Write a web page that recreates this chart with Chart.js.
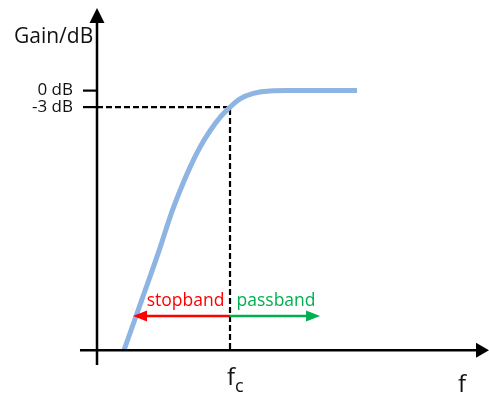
<!DOCTYPE html>
<html>
<head>
<meta charset="utf-8">
<script src="https://cdn.jsdelivr.net/npm/chart.js@4/dist/chart.umd.min.js"></script>
<style>
  html, body { margin: 0; padding: 0; background: #ffffff; }
  #wrap { width: 489px; height: 396px; }
</style>
</head>
<body>
<div id="wrap"><canvas id="c" width="489" height="396"></canvas></div>
<script>
// ---- data (normalized frequency f/fc, gain in dB) ----
const freq = [0.203, 0.336, 0.468, 0.562, 0.624, 0.699, 0.774, 0.850, 0.925, 1.0, 1.075, 1.175, 1.301, 1.436, 1.955];
const gain = [-47.2, -38.1, -29.0, -22.1, -18.2, -13.95, -10.3, -7.3, -4.85, -3.0, -1.5, -0.5, -0.05, 0, 0];
const cutoffF = 1.0;
const cutoffGain = -3;
const gainTicks = [0, -3];
const gainTickLabels = ['0 dB', '-3 dB'];
const baselineGain = -47.2;
const bandArrowGain = -41.0;
const stopbandEnd = 0.271;
const passbandEnd = 1.677;
const axisLabelY = 'Gain/dB';
const axisLabelX = 'f';
const bandLabels = ['stopband', 'passband'];

const curvePts = freq.map((f, i) => ({ x: f, y: gain[i] }));
const guidePts = [{ x: 0, y: cutoffGain }, { x: cutoffF, y: cutoffGain }, { x: cutoffF, y: baselineGain }];

const FONT = '"Open Sans", "DejaVu Sans", sans-serif';

function tri(ctx, tip, a, b, color) {
  ctx.beginPath();
  ctx.moveTo(tip[0], tip[1]);
  ctx.lineTo(a[0], a[1]);
  ctx.lineTo(b[0], b[1]);
  ctx.closePath();
  ctx.fillStyle = color;
  ctx.fill();
}

const decor = {
  id: 'decor',
  afterDatasetsDraw(chart) {
    const ctx = chart.ctx;
    const xs = chart.scales.x, ys = chart.scales.y;
    const X = v => xs.getPixelForValue(v);
    const Y = v => ys.getPixelForValue(v);
    const x0 = X(0);
    const yb = Y(baselineGain);
    ctx.save();

    // axes
    ctx.strokeStyle = '#000';
    ctx.lineWidth = 2.5;
    ctx.lineCap = 'butt';
    ctx.beginPath();
    ctx.moveTo(x0, Y(ys.min));
    ctx.lineTo(x0, Y(ys.max) + 14);
    ctx.stroke();
    tri(ctx, [x0, Y(ys.max)], [x0 - 7.5, Y(ys.max) + 15], [x0 + 7.5, Y(ys.max) + 15], '#000');

    ctx.beginPath();
    ctx.moveTo(X(-0.128), yb);
    ctx.lineTo(X(xs.max) - 12, yb);
    ctx.stroke();
    tri(ctx, [X(xs.max), yb], [X(xs.max) - 13, yb - 7.5], [X(xs.max) - 13, yb + 7.5], '#000');

    // gain ticks
    ctx.lineWidth = 2.2;
    gainTicks.forEach(g => {
      ctx.beginPath();
      ctx.moveTo(x0 - 14, Y(g));
      ctx.lineTo(x0, Y(g));
      ctx.stroke();
    });

    // labels
    ctx.fillStyle = '#111';
    ctx.textBaseline = 'alphabetic';
    ctx.font = '17px ' + FONT;
    ctx.textAlign = 'right';
    gainTicks.forEach((g, i) => {
      ctx.fillText(gainTickLabels[i], x0 - 24, Y(g) + 4.5);
    });

    ctx.textAlign = 'left';
    ctx.font = '21px ' + FONT;
    ctx.fillText(axisLabelY, 14, 43);

    ctx.font = '24px ' + FONT;
    ctx.fillText('f', X(cutoffF) - 3, yb + 35);
    ctx.font = '18px ' + FONT;
    ctx.fillText('c', X(cutoffF) + 5, yb + 42);
    ctx.font = '24px ' + FONT;
    ctx.fillText(axisLabelX, X(xs.max) - 31, yb + 42);

    // band arrows
    const ya = Y(bandArrowGain);
    const xc = X(cutoffF);
    ctx.lineWidth = 2.5;
    ctx.strokeStyle = '#FF0000';
    ctx.beginPath();
    ctx.moveTo(xc, ya);
    ctx.lineTo(X(stopbandEnd) + 12, ya);
    ctx.stroke();
    tri(ctx, [X(stopbandEnd), ya], [X(stopbandEnd) + 14, ya - 5.5], [X(stopbandEnd) + 14, ya + 5.5], '#FF0000');

    ctx.strokeStyle = '#00B050';
    ctx.beginPath();
    ctx.moveTo(xc, ya);
    ctx.lineTo(X(passbandEnd) - 12, ya);
    ctx.stroke();
    tri(ctx, [X(passbandEnd), ya], [X(passbandEnd) - 14, ya - 5.5], [X(passbandEnd) - 14, ya + 5.5], '#00B050');

    ctx.font = '17.5px ' + FONT;
    ctx.textAlign = 'center';
    ctx.fillStyle = '#FF0000';
    ctx.fillText(bandLabels[0], (X(stopbandEnd) + xc) / 2 + 4, ya - 10);
    ctx.fillStyle = '#00B050';
    ctx.fillText(bandLabels[1], (X(passbandEnd) + xc) / 2 + 1, ya - 10);

    ctx.restore();
  }
};

new Chart(document.getElementById('c'), {
  type: 'scatter',
  data: {
    datasets: [
      {
        data: curvePts,
        showLine: true,
        borderColor: '#8DB4E2',
        borderWidth: 5,
        borderCapStyle: 'butt',
        cubicInterpolationMode: 'monotone',
        pointRadius: 0,
        fill: false
      },
      {
        data: guidePts,
        showLine: true,
        borderColor: '#000000',
        borderWidth: 2.2,
        borderDash: [6, 3],
        pointRadius: 0,
        tension: 0,
        fill: false
      }
    ]
  },
  options: {
    responsive: false,
    animation: false,
    devicePixelRatio: 1,
    layout: { padding: { left: 97, right: 0, top: 8, bottom: 31 } },
    plugins: { legend: { display: false }, tooltip: { enabled: false } },
    scales: {
      x: { type: 'linear', display: false, min: 0, max: 2.947 },
      y: { type: 'linear', display: false, min: -49.89, max: 15.02 }
    }
  },
  plugins: [decor]
});
</script>
</body>
</html>
